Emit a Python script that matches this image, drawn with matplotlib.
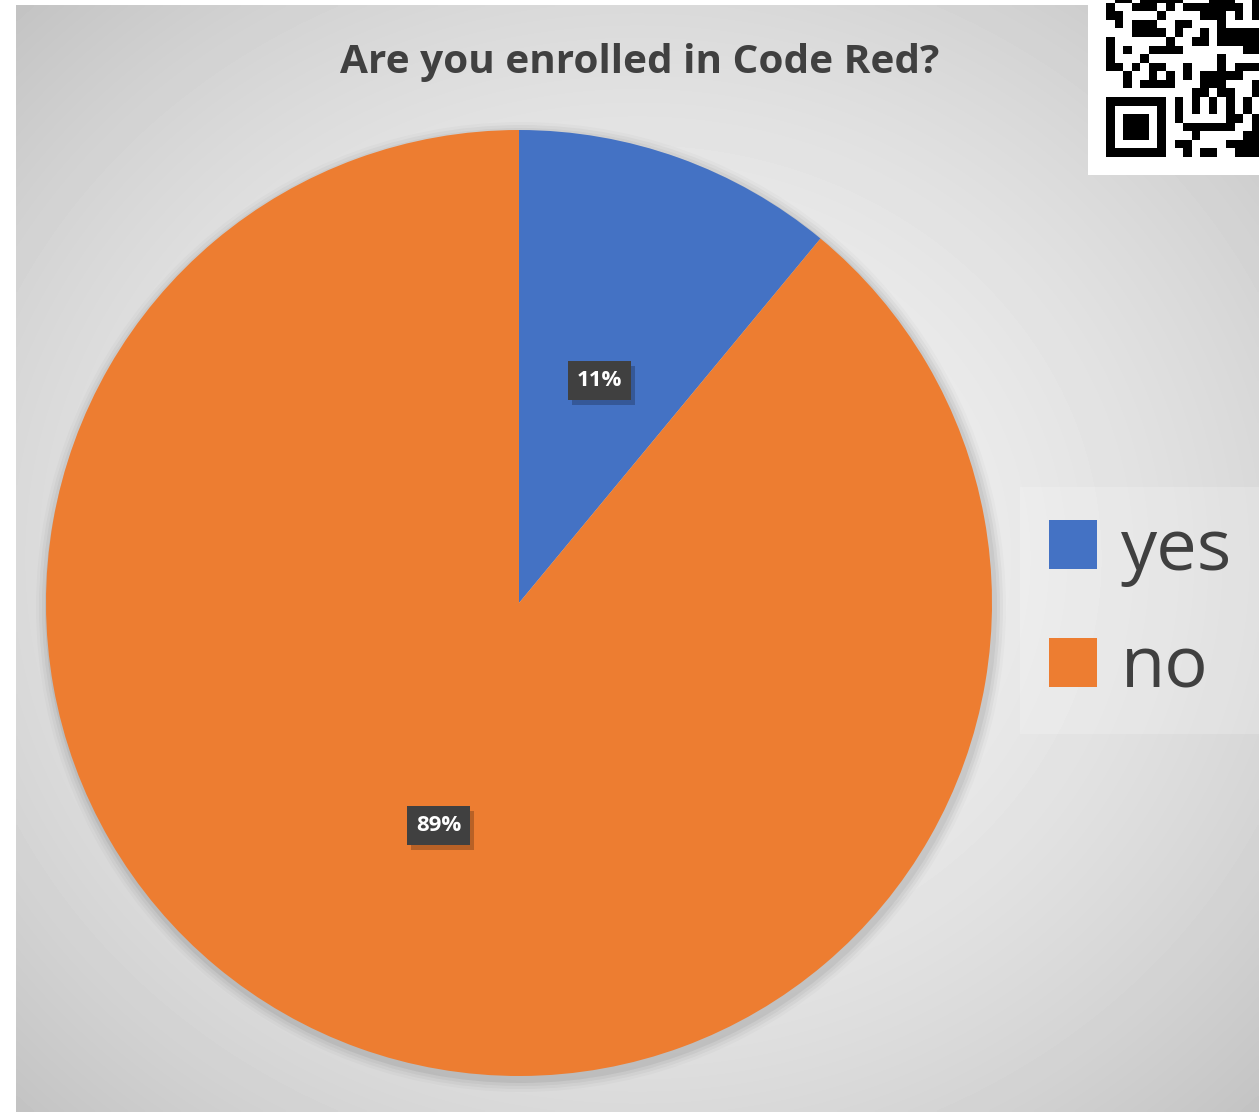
import numpy as np
import matplotlib
matplotlib.use("Agg")
import matplotlib.pyplot as plt
from matplotlib.patches import Rectangle, Circle

# === DONNEES ===
labels = ["yes", "no"]
valeurs = [11, 89]
couleurs = ["#4472C4", "#ED7D31"]
titre = "Are you enrolled in Code Red?"

# motif du QR code (coin en haut a droite, rogne), lignes du haut vers le bas
qr_lignes = [
    "011011111000111001",
    "100111010111111101",
    "110000100001110101",
    "010111001100010000",
    "000111101001011111",
    "100000010011011111",
    "101001111000000011",
    "100010000000010000",
    "110101100100010111",
    "001001010101111100",
    "001011110001110001",
    "000000000011011001",
    "111111101010101010",
    "100000101010101010",
    "101110101000001101",
    "101110100111111001",
    "101110100010000011",
    "100000101100001111",
    "111111100101100111",
]

W, H = 1259, 1112
plt.rcParams['font.family'] = ['Open Sans', 'DejaVu Sans']

fig = plt.figure(figsize=(W / 100, H / 100), dpi=100)
fig.patch.set_facecolor("white")
ax = fig.add_axes([0, 0, 1, 1])

# fond gris en degrade radial
x0, x1, y0, y1 = 16, W, 0, H - 5
xx, yy = np.meshgrid(np.linspace(x0, x1, 400), np.linspace(y0, y1, 360))
cx, cy = (x0 + x1) / 2, (y0 + y1) / 2
r = np.sqrt(((xx - cx) / ((x1 - x0) / 2)) ** 2 + ((yy - cy) / ((y1 - y0) / 2)) ** 2) / np.sqrt(2)
gris = 0.955 - (0.955 - 0.765) * np.clip(r, 0, 1) ** 1.8
ax.imshow(gris, cmap="gray", vmin=0, vmax=1, extent=(x0, x1, y0, y1),
          origin="lower", interpolation="bilinear", zorder=0)

# camembert
centre = (519, H - 603)
rayon = 473
for k, a in enumerate([0.05, 0.04, 0.03, 0.02]):
    ax.add_patch(Circle((centre[0] + 2, centre[1] - 4), rayon + 3 + 3 * k,
                        color="black", alpha=a, lw=0, zorder=1))
wedges, _, autotexts = ax.pie(valeurs, colors=couleurs, startangle=90, counterclock=False,
                              center=centre, radius=rayon, autopct="%1.0f%%", pctdistance=0.5,
                              wedgeprops=dict(linewidth=0, zorder=2),
                              textprops=dict(color="white", fontsize=16, fontweight="bold"))
for t in autotexts:
    t.set_zorder(5)
    t.set_bbox(dict(boxstyle="square,pad=0.4", facecolor="#404040", edgecolor="none"))

ax.set_xlim(0, W)
ax.set_ylim(0, H)
ax.set_aspect("equal")
ax.axis("off")

# titre, taille ajustee a la largeur visee
t = ax.text(640, H - 62, titre, ha="center", va="center", fontsize=28,
            fontweight="bold", color="#404040", zorder=6)
fig.canvas.draw()
larg = t.get_window_extent().width
t.set_fontsize(28 * 598 / larg)

# ombre sous les etiquettes
fig.canvas.draw()
for at in autotexts:
    bb = at.get_bbox_patch().get_window_extent()
    ax.add_patch(Rectangle((bb.x0 + 4, bb.y0 - 5), bb.width, bb.height,
                           facecolor="black", alpha=0.22, edgecolor="none", zorder=4))

# legende
leg = ax.legend(wedges, labels, loc="center left", bbox_to_anchor=(1020 / W, (H - 610) / H),
                fontsize=52, frameon=True, fancybox=False, handlelength=0.67, handleheight=0.67,
                handletextpad=0.33, labelspacing=0.64, borderpad=0.4, borderaxespad=0)
leg.get_frame().set_facecolor("white")
leg.get_frame().set_alpha(0.2)
leg.get_frame().set_edgecolor("none")
for txt in leg.get_texts():
    txt.set_color("#404040")

# QR code (coin superieur droit)
ax.add_patch(Rectangle((1088, H - 175), W - 1088, 175, facecolor="white", edgecolor="none", zorder=6))
mod = 8.57
bas = H - 157
n = len(qr_lignes)
for i, ligne in enumerate(qr_lignes):
    for j, c in enumerate(ligne):
        if c == "1":
            ax.add_patch(Rectangle((1106 + j * mod, bas + (n - 1 - i) * mod), mod, mod,
                                   facecolor="black", edgecolor="none", zorder=7))

fig.savefig("out.png", dpi=100)
